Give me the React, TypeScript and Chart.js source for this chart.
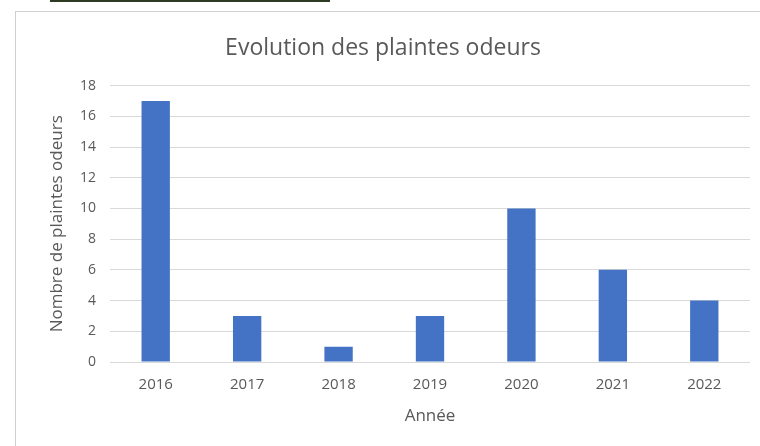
import React, { useEffect, useRef } from "react";
import { Chart, registerables } from "chart.js";

Chart.register(...registerables);

const categories = ["2016", "2017", "2018", "2019", "2020", "2021", "2022"];
const complaints = [17, 3, 1, 3, 10, 6, 4];
const yTicksMax = 18;
const yTicksStep = 2;

const titleText = "Evolution des plaintes odeurs";
const yTitle = "Nombre de plaintes odeurs";
const xTitle = "Année";

const FONT = "'Open Sans', 'Noto Sans', sans-serif";
const TEXT = "#595959";

export default function App() {
  const ref = useRef<HTMLCanvasElement | null>(null);

  useEffect(() => {
    if (!ref.current) return;
    const chart = new Chart(ref.current, {
      type: "bar",
      data: {
        labels: categories,
        datasets: [
          {
            label: "Plaintes",
            data: complaints,
            backgroundColor: "#4472c4",
            borderWidth: 0,
            categoryPercentage: 1,
            barPercentage: 0.31,
          },
        ],
      },
      options: {
        animation: false,
        responsive: false,
        maintainAspectRatio: false,
        layout: { padding: { left: 0, right: 10, top: 0, bottom: 0 } },
        plugins: {
          legend: { display: false },
          tooltip: { enabled: false },
          title: {
            display: true,
            text: titleText,
            color: TEXT,
            font: { family: FONT, size: 23, weight: "normal" },
            padding: { top: 23, bottom: 23 },
          },
        },
        scales: {
          x: {
            grid: { display: false, drawTicks: false },
            border: { display: false },
            ticks: {
              color: TEXT,
              font: { family: FONT, size: 15 },
              padding: 14,
              maxRotation: 0,
            },
            title: {
              display: true,
              text: xTitle,
              color: TEXT,
              font: { family: FONT, size: 17 },
              padding: { top: 10, bottom: 20 },
            },
            afterFit: (s: any) => {
              s.height = 84;
            },
          },
          y: {
            min: 0,
            max: yTicksMax,
            grid: { color: "#d9d9d9", drawTicks: false, lineWidth: 1 },
            border: { display: false },
            ticks: {
              stepSize: yTicksStep,
              color: TEXT,
              font: { family: FONT, size: 14 },
              padding: 14,
            },
            title: {
              display: true,
              text: yTitle,
              color: TEXT,
              font: { family: FONT, size: 17 },
              padding: { top: 31, bottom: 0 },
            },
            afterFit: (s: any) => {
              s.width = 94;
            },
          },
        },
      },
    });
    return () => chart.destroy();
  }, []);

  return (
    <div style={{ position: "fixed", left: 0, top: 0, width: 760, height: 446, background: "#fff", overflow: "hidden" }}>
      <div style={{ position: "absolute", left: 50, top: 0, width: 280, height: 2, background: "#2f3a22" }} />
      <div
        style={{
          position: "absolute",
          left: 15,
          top: 11,
          width: 760,
          height: 446,
          borderLeft: "1px solid #d0d0d0",
          borderTop: "1px solid #d0d0d0",
        }}
      />
      <canvas ref={ref} width={744} height={434} style={{ position: "absolute", left: 16, top: 12 }} />
    </div>
  );
}
